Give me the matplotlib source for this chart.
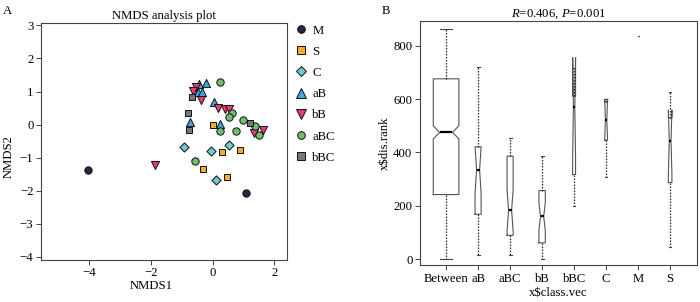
import matplotlib
matplotlib.use("Agg")
import matplotlib.pyplot as plt
from matplotlib.lines import Line2D

plt.rcParams['font.family'] = ['Liberation Serif', 'DejaVu Serif']
plt.rcParams['mathtext.fontset'] = 'custom'
plt.rcParams['mathtext.rm'] = 'Liberation Serif'
plt.rcParams['mathtext.it'] = 'Liberation Serif:italic'
FS = 9.2
plt.rcParams['font.size'] = FS

# ---------------- Panel A data (NMDS scores) ----------------
groups = ['M', 'S', 'C', 'aB', 'bB', 'aBC', 'bBC']
group_colors = ['#2e2340', '#f5a92e', '#6fcbc6', '#3ea6dd', '#ea3a72', '#6dbe6d', '#6f7a7a']
group_markers = ['o', 's', 'D', '^', 'v', 'o', 's']

M_x = [-4.03, 1.08]
M_y = [-1.38, -2.08]
S_x = [0.02, 0.31, 0.89, -0.30, 0.48]
S_y = [-0.02, -0.82, -0.77, -1.35, -1.60]
C_x = [-0.93, -0.06, 0.52, 0.11]
C_y = [-0.68, -0.81, -0.63, -1.69]
aB_x = [-0.44, -0.22, -0.46, -0.35, 0.03, -0.74, 0.24]
aB_y = [1.22, 1.27, 1.00, 1.00, 0.69, 0.09, 0.01]
bB_x = [-0.54, -0.63, -0.38, 0.18, 0.41, 0.52, 1.34, 1.63, -1.87]
bB_y = [1.14, 1.02, 0.74, 0.49, 0.46, 0.46, -0.26, -0.17, -1.21]
aBC_x = [0.23, 0.64, 0.54, 0.98, 0.25, 0.75, 1.38, 1.51, -0.58]
aBC_y = [1.30, 0.34, 0.23, 0.13, -0.19, -0.19, -0.04, -0.32, -1.11]
bBC_x = [-0.67, -0.81, -0.77, 1.21]
bBC_y = [0.83, 0.34, -0.15, 0.05]

xs = [M_x, S_x, C_x, aB_x, bB_x, aBC_x, bBC_x]
ys = [M_y, S_y, C_y, aB_y, bB_y, aBC_y, bBC_y]

# ---------------- Panel B data (ANOSIM rank boxplot) ----------------
classes = ['Between', 'aB', 'aBC', 'bB', 'bBC', 'C', 'M', 'S']
whis_lo = [0, 15, 15, 0, 199, 308, 837, 45]
q1 = [242, 168, 89, 61, 317, 446, 837, 287]
med = [475, 334, 183, 160, 569, 523, 837, 442]
q3 = [676, 421, 386, 257, 612, 590, 837, 530]
whis_hi = [862, 722, 453, 387, 715, 599, 837, 628]
ci_lo = [451, 247, 105, 108, 382, 446, 837, 321]
ci_hi = [500, 421, 261, 212, 756, 600, 837, 559]
box_widths = [0.80, 0.19, 0.19, 0.20, 0.09, 0.09, 0.03, 0.11]

fig = plt.figure(figsize=(7.0, 3.02), dpi=100)

# ---------- Panel A ----------
axA = fig.add_axes([0.0579, 0.1407, 0.3517, 0.7841])
for g, c, m, x, y in zip(groups, group_colors, group_markers, xs, ys):
    ms = 28 if m in ('o',) else (24 if m == 's' else (22 if m == 'D' else 34))
    axA.scatter(x, y, s=ms, marker=m, c=c, edgecolors='#111111', linewidths=0.7, zorder=3, label=g)
axA.set_xlim(-5.58, 2.40)
axA.set_ylim(-4.08, 3.08)
axA.set_xticks([-4, -2, 0, 2])
axA.set_yticks([-4, -3, -2, -1, 0, 1, 2, 3])
axA.set_xlabel('NMDS1')
axA.set_ylabel('NMDS2')
axA.xaxis.set_label_coords(0.449, -0.085)
axA.yaxis.set_label_coords(-0.105, 0.433)
axA.set_title('NMDS analysis plot', fontsize=FS, pad=3)
handles = [Line2D([0], [0], marker=m, linestyle='none', markerfacecolor=c,
                  markeredgecolor='#111111', markeredgewidth=0.7,
                  markersize=(6.5 if m in ('^', 'v') else 5.5))
           for c, m in zip(group_colors, group_markers)]
axA.legend(handles, groups, loc='upper left', bbox_to_anchor=(1.0, 1.03),
           frameon=False, handlelength=0.8, handletextpad=0.5,
           labelspacing=0.72, borderaxespad=0.3, fontsize=FS)
fig.text(0.004, 0.955, 'A', fontsize=FS)

# ---------- Panel B ----------
axB = fig.add_axes([0.5993, 0.1209, 0.396, 0.8106])
stats = []
for i, lab in enumerate(classes):
    stats.append(dict(label=lab, whislo=whis_lo[i], q1=q1[i], med=med[i], q3=q3[i],
                      whishi=whis_hi[i], cilo=ci_lo[i], cihi=ci_hi[i], fliers=[]))
positions = list(range(1, len(classes) + 1))
axB.bxp(stats, positions=positions, widths=box_widths, shownotches=True,
        showfliers=False, patch_artist=False,
        boxprops=dict(color='#555555', linewidth=0.8),
        whiskerprops=dict(color='#222222', linewidth=0.9, linestyle=(0, (1.2, 1.2))),
        capprops=dict(color='#444444', linewidth=0.8),
        medianprops=dict(color='black', linewidth=1.6))
axB.set_xlim(0.17, 8.83)
axB.set_ylim(-24, 894)
axB.set_yticks([0, 200, 400, 600, 800])
axB.set_xticks(positions)
axB.set_xticklabels(classes)
axB.set_xlabel('x\\$class.vec')
axB.xaxis.set_label_coords(0.5, -0.088)
axB.set_ylabel('x\\$dis.rank', labelpad=2)
axB.set_title(r'$\mathit{R}$=0.406, $\mathit{P}$=0.001', fontsize=FS, pad=3)
fig.text(0.545, 0.955, 'B', fontsize=FS)

for ax in (axA, axB):
    for sp in ax.spines.values():
        sp.set_color('#444444')
        sp.set_linewidth(0.8)
    ax.tick_params(direction='out', length=3.3, width=0.7, color='#444444', pad=1.8, labelsize=FS)

fig.savefig('out.png', dpi=100)
